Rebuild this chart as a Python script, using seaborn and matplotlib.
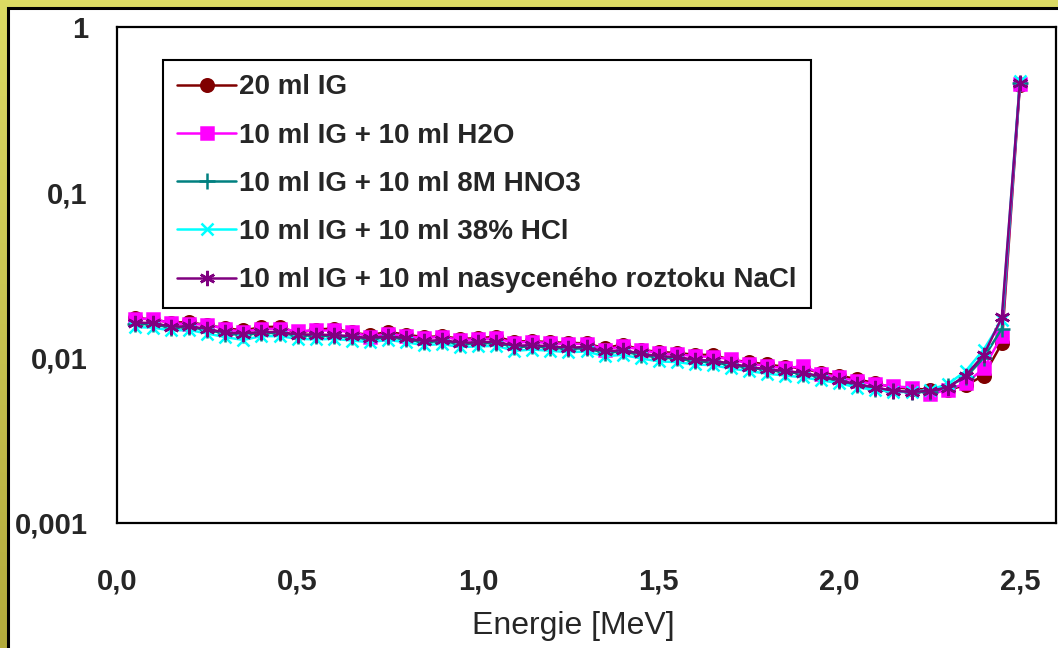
import numpy as np
import pandas as pd
import matplotlib
matplotlib.use("Agg")
import matplotlib.pyplot as plt
import seaborn as sns
from matplotlib.patches import Rectangle
from matplotlib.colors import LinearSegmentedColormap

# ---------------- data ----------------
energy = [0.05, 0.10, 0.15, 0.20, 0.25, 0.30, 0.35, 0.40, 0.45, 0.50,
          0.55, 0.60, 0.65, 0.70, 0.75, 0.80, 0.85, 0.90, 0.95, 1.00,
          1.05, 1.10, 1.15, 1.20, 1.25, 1.30, 1.35, 1.40, 1.45, 1.50,
          1.55, 1.60, 1.65, 1.70, 1.75, 1.80, 1.85, 1.90, 1.95, 2.00,
          2.05, 2.10, 2.15, 2.20, 2.25, 2.30, 2.35, 2.40, 2.45, 2.50]

ig20 = [0.0174, 0.0170, 0.0163, 0.0164, 0.0157, 0.0151, 0.0146, 0.0153, 0.0154, 0.0141,
        0.0148, 0.0150, 0.0142, 0.0137, 0.0143, 0.0138, 0.0133, 0.0135, 0.0130, 0.0131,
        0.0134, 0.0125, 0.0126, 0.0124, 0.0123, 0.0122, 0.0114, 0.0120, 0.0112, 0.0108,
        0.0107, 0.0104, 0.0104, 0.0097, 0.0094, 0.0091, 0.0088, 0.0086, 0.0081, 0.0078,
        0.0074, 0.0070, 0.0066, 0.0065, 0.0064, 0.0064, 0.0068, 0.0078, 0.0122, 0.445]

ig_h2o = [0.0171, 0.0172, 0.0161, 0.0160, 0.0158, 0.0149, 0.0143, 0.0150, 0.0149, 0.0145,
          0.0146, 0.0146, 0.0143, 0.0134, 0.0140, 0.0135, 0.0131, 0.0134, 0.0128, 0.0129,
          0.0131, 0.0123, 0.0125, 0.0122, 0.0121, 0.0121, 0.0112, 0.0117, 0.0112, 0.0106,
          0.0105, 0.0102, 0.0101, 0.0098, 0.0092, 0.0089, 0.0086, 0.0089, 0.0080, 0.0076,
          0.0072, 0.0069, 0.0067, 0.0066, 0.0060, 0.0064, 0.0070, 0.0086, 0.0136, 0.455]

ig_hno3 = [0.0160, 0.0159, 0.0152, 0.0153, 0.0147, 0.0140, 0.0137, 0.0141, 0.0141, 0.0136,
           0.0136, 0.0135, 0.0133, 0.0129, 0.0133, 0.0129, 0.0124, 0.0126, 0.0121, 0.0122,
           0.0123, 0.0116, 0.0117, 0.0115, 0.0113, 0.0114, 0.0107, 0.0109, 0.0104, 0.0100,
           0.0099, 0.0095, 0.0094, 0.0090, 0.0087, 0.0084, 0.0082, 0.0080, 0.0076, 0.0072,
           0.0068, 0.0065, 0.0063, 0.0062, 0.0062, 0.0067, 0.0076, 0.0100, 0.0150, 0.460]

ig_hcl = [0.0153, 0.0152, 0.0146, 0.0147, 0.0140, 0.0133, 0.0128, 0.0135, 0.0135, 0.0130,
          0.0129, 0.0130, 0.0127, 0.0124, 0.0128, 0.0124, 0.0119, 0.0121, 0.0116, 0.0117,
          0.0118, 0.0110, 0.0112, 0.0110, 0.0108, 0.0109, 0.0102, 0.0104, 0.0099, 0.0095,
          0.0094, 0.0091, 0.0090, 0.0086, 0.0083, 0.0080, 0.0078, 0.0076, 0.0073, 0.0070,
          0.0066, 0.0064, 0.0062, 0.0062, 0.0064, 0.0069, 0.0083, 0.0112, 0.0168, 0.470]

ig_nacl = [0.0163, 0.0162, 0.0154, 0.0155, 0.0149, 0.0142, 0.0140, 0.0143, 0.0143, 0.0138,
           0.0138, 0.0137, 0.0135, 0.0131, 0.0135, 0.0131, 0.0126, 0.0128, 0.0123, 0.0124,
           0.0125, 0.0118, 0.0119, 0.0117, 0.0115, 0.0116, 0.0109, 0.0111, 0.0106, 0.0102,
           0.0101, 0.0097, 0.0096, 0.0092, 0.0088, 0.0085, 0.0083, 0.0081, 0.0077, 0.0073,
           0.0069, 0.0066, 0.0063, 0.0062, 0.0063, 0.0066, 0.0078, 0.0104, 0.0175, 0.460]

labels = ["20 ml IG",
          "10 ml IG + 10 ml H2O",
          "10 ml IG + 10 ml 8M HNO3",
          "10 ml IG + 10 ml 38% HCl",
          "10 ml IG + 10 ml nasyceného roztoku NaCl"]
series = [ig20, ig_h2o, ig_hno3, ig_hcl, ig_nacl]

x_ticks = [0.0, 0.5, 1.0, 1.5, 2.0, 2.5]
x_ticklabels = ["0,0", "0,5", "1,0", "1,5", "2,0", "2,5"]
y_ticks = [0.001, 0.01, 0.1, 1]
y_ticklabels = ["0,001", "0,01", "0,1", "1"]
x_label = "Energie [MeV]"

# ---------------- style ----------------
colors = ["#800000", "#ff00ff", "#008080", "#00ffff", "#800080"]
markers = ["o", "s", "+", "x", (6, 2, 0)]
msizes = [9, 8.5, 11, 8.5, 11]

sns.set_style("white")
plt.rcParams["font.family"] = ["Liberation Sans", "DejaVu Sans"]

W, H = 1058, 648
fig = plt.figure(figsize=(W / 100, H / 100), dpi=100)

# background: olive-yellow gradient frame + white panel with black border
bg = fig.add_axes([0, 0, 1, 1], zorder=-10)
grad = np.linspace(0, 1, 256).reshape(-1, 1)
cmap = LinearSegmentedColormap.from_list("bgc", ["#dcdb64", "#b3ab3c"])
bg.imshow(grad, aspect="auto", cmap=cmap, extent=[0, W, H, 0])
bg.add_patch(Rectangle((8, 8), W + 20, H + 20, facecolor="white",
                       edgecolor="black", linewidth=2.2))
bg.set_xlim(0, W)
bg.set_ylim(H, 0)
bg.axis("off")

ax = fig.add_axes([117 / W, 1 - 523 / H, (1056 - 117) / W, (523 - 27) / H])
ax.set_facecolor("white")

df = pd.DataFrame({"energy": energy})
for lab, vals, c, m, ms in zip(labels, series, colors, markers, msizes):
    df[lab] = vals
    sns.lineplot(data=df, x="energy", y=lab, ax=ax, color=c, marker=m,
                 markersize=ms, markeredgecolor=c, markerfacecolor=c,
                 markeredgewidth=1.8, linewidth=1.8, label=lab)

ax.set_yscale("log")
ax.set_xlim(0, 2.6)
ax.set_ylim(0.001, 1)
ax.set_xticks(x_ticks)
ax.set_xticklabels(x_ticklabels)
ax.set_yticks(y_ticks)
ax.set_yticklabels(y_ticklabels)
ax.minorticks_off()
ax.tick_params(axis="both", direction="out", length=9, width=1.5,
               color="black", labelsize=21)
ax.tick_params(axis="x", pad=23)
ax.tick_params(axis="y", pad=12)
for lbl in ax.get_xticklabels() + ax.get_yticklabels():
    lbl.set_fontweight("bold")
ax.set_xlabel(x_label, fontsize=23)
ax.xaxis.set_label_coords((573 - 117) / 939, (523 - 611) / 496)
ax.set_ylabel("")
for sp in ax.spines.values():
    sp.set_visible(True)
    sp.set_color("black")
    sp.set_linewidth(1.6)

leg = ax.legend(loc="upper left", bbox_to_anchor=(46 / 939, (523 - 60) / 496),
                borderaxespad=0, frameon=True, fancybox=False,
                edgecolor="black", framealpha=1, handlelength=2.1,
                handletextpad=0.1, labelspacing=0.8,
                prop={"weight": "bold", "size": 20}, borderpad=0.52)
leg.get_frame().set_linewidth(1.5)

fig.savefig("out.png", dpi=100)
